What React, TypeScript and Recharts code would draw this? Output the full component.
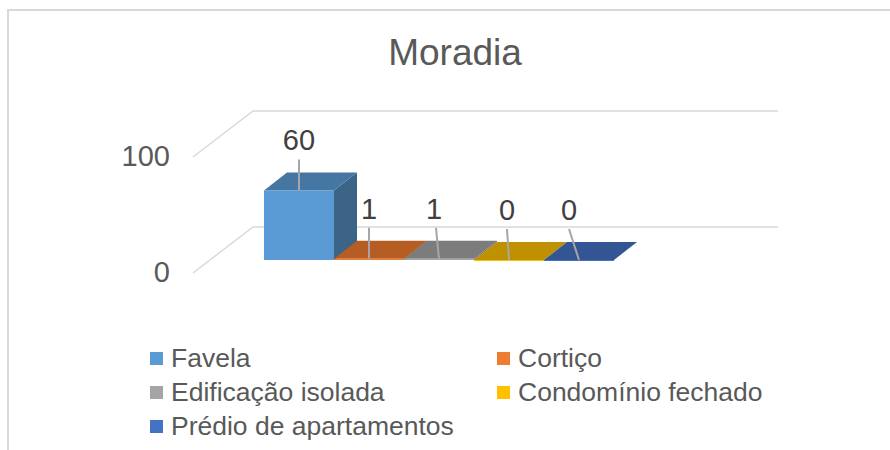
import { Bar, BarChart, CartesianGrid, LabelList, Legend, XAxis, YAxis } from 'recharts';

const categories = ['Moradia'];
const seriesNames = ['Favela', 'Cortiço', 'Edificação isolada', 'Condomínio fechado', 'Prédio de apartamentos'];
const seriesValues = [60, 1, 1, 0, 0];
const yTicks = [0, 100];

const frontColors = ['#5b9bd5', '#ed7d31', '#a5a5a5', '#ffc000', '#4472c4'];
const topColors = ['#4676a2', '#b55d22', '#7c7c7c', '#bf9000', '#335593'];
const sideColors = ['#3b6487', '#94501f', '#666666', '#9e7700', '#2b4a80'];

// leader lines of the excel labels lean a bit, per series
const leaderLean = [0, 0, -3, -2, -10];
const labelLean = [0, 0, -5, -2, -10];

const TEXT = '#595959';
const FONT = '"Liberation Sans", Arial, sans-serif';
const DEPTH_X = 23;
const DEPTH_Y = 18;

const rows = categories.map((name) => {
  const row: Record<string, string | number> = { name };
  seriesNames.forEach((s, i) => {
    row[s] = seriesValues[i];
  });
  return row;
});

// fake 3d column: front, top and right faces
const makeShape = (i: number) => (props: any) => {
  const { x, y, width, height } = props;
  const r = x + width;
  const b = y + height;
  return (
    <g>
      <polygon points={`${r},${y} ${r + DEPTH_X},${y - DEPTH_Y} ${r + DEPTH_X},${b - DEPTH_Y} ${r},${b}`} fill={sideColors[i]} />
      <polygon points={`${x},${y} ${x + DEPTH_X},${y - DEPTH_Y} ${r + DEPTH_X},${y - DEPTH_Y} ${r},${y}`} fill={topColors[i]} />
      <rect x={x} y={y} width={width} height={Math.max(height, 1)} fill={frontColors[i]} />
    </g>
  );
};

const makeLabel = (i: number) => (props: any) => {
  const { x, y, width, value } = props;
  const cx = x + width / 2;
  return (
    <g>
      <line x1={cx} y1={y} x2={cx + leaderLean[i]} y2={y - 31} stroke="#a6a6a6" strokeWidth={2} />
      <text x={cx + labelLean[i]} y={y - 40} textAnchor="middle" fontFamily={FONT} fontSize={29} fill="#404040">
        {value}
      </text>
    </g>
  );
};

// floor/back wall gridline: slanted side wall then along the back wall
const gridLine = (props: any) => {
  const { x1, x2, y1, key } = props;
  return (
    <polyline
      key={key}
      points={`${x1 - 2},${y1 + 13} ${x1 + 58},${y1 - 33} ${x2 + 95},${y1 - 33}`}
      fill="none"
      stroke="#d9d9d9"
      strokeWidth={1.5}
    />
  );
};

const yTick = (props: any) => {
  const { y, payload } = props;
  return (
    <text x={170} y={y + 22} textAnchor="end" fontFamily={FONT} fontSize={29} fill={TEXT}>
      {payload.value}
    </text>
  );
};

const legendContent = (props: any) => (
  <div style={{ display: 'grid', gridTemplateColumns: '347px 340px', rowGap: 0, fontFamily: FONT, fontSize: 26.5, color: TEXT }}>
    {props.payload.map((item: any, i: number) => (
      <div key={item.value} style={{ display: 'flex', alignItems: 'center', height: 34, whiteSpace: 'nowrap' }}>
        <span style={{ width: 13, height: 13, background: frontColors[i], marginRight: 8 }} />
        {item.value}
      </div>
    ))}
  </div>
);

export default function App() {
  return (
    <div style={{ position: 'absolute', left: 0, top: 0, width: 890, height: 450, background: '#fff', overflow: 'hidden' }}>
      <div style={{ position: 'absolute', left: 7, top: 9, width: 883, height: 441, borderTop: '2px solid #d9d9d9', borderLeft: '2px solid #d9d9d9' }} />
      <BarChart
        width={890}
        height={450}
        data={rows}
        margin={{ top: 144, right: 207, bottom: 190, left: 0 }}
        barGap={0}
        barSize={70}
        style={{ position: 'absolute', left: 0, top: 0 }}
      >
        <CartesianGrid vertical={false} horizontal={gridLine} />
        <XAxis dataKey="name" hide />
        <YAxis width={195} domain={[0, 100]} ticks={yTicks} axisLine={false} tickLine={false} tick={yTick} />
        <Legend
          layout="horizontal"
          verticalAlign="middle"
          content={legendContent}
          itemSorter={null}
          wrapperStyle={{ left: 150, top: 341, width: 700 }}
        />
        {seriesNames.map((s, i) => (
          <Bar key={s} dataKey={s} fill={frontColors[i]} shape={makeShape(i)} isAnimationActive={false}>
            <LabelList dataKey={s} content={makeLabel(i)} />
          </Bar>
        ))}
        <text x={455} y={65} textAnchor="middle" fontFamily={FONT} fontSize={37} fill={TEXT}>
          Moradia
        </text>
      </BarChart>
    </div>
  );
}
